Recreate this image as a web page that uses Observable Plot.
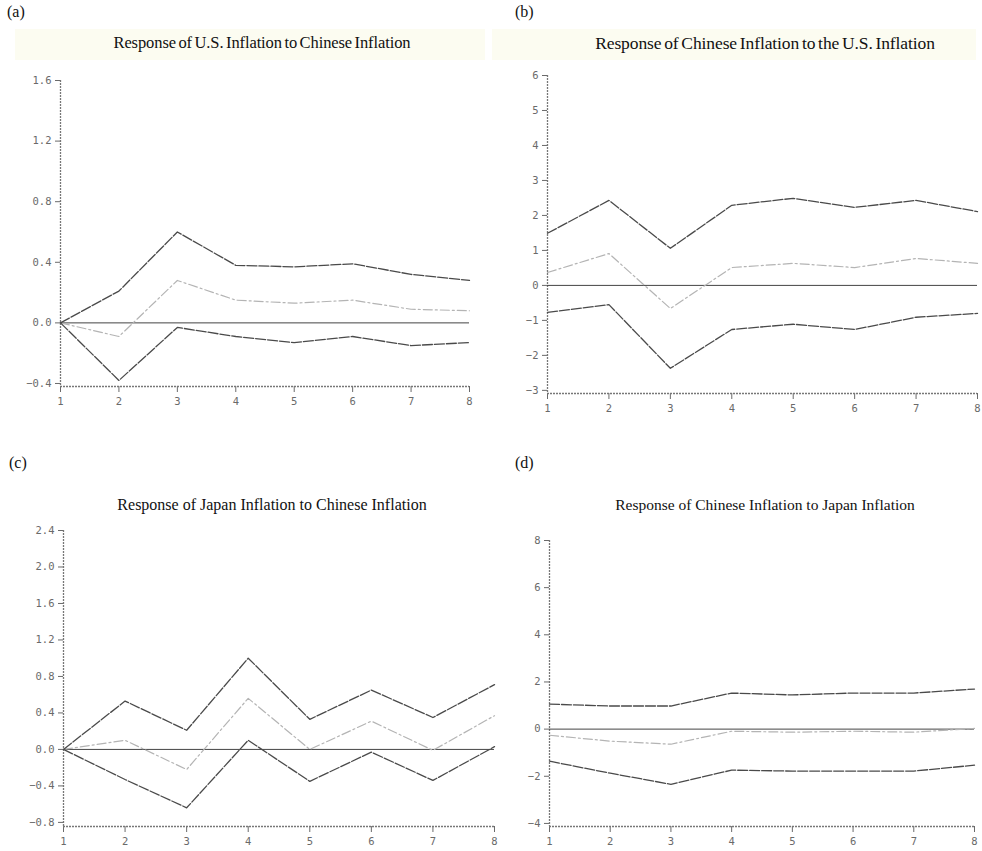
<!DOCTYPE html>
<html>
<head>
<meta charset="utf-8">
<script src="https://cdn.jsdelivr.net/npm/d3@7"></script>
<script src="https://cdn.jsdelivr.net/npm/@observablehq/plot@0.6"></script>
<style>
  html, body { margin: 0; padding: 0; background: #fff; }
  #wrap { position: relative; width: 982px; height: 851px; overflow: hidden; font-family: "Liberation Serif", "DejaVu Serif", serif; color: #111; }
  .lab { position: absolute; font-size: 16px; line-height: 16px; }
  .ttl { position: absolute; text-align: center; white-space: nowrap; line-height: 18px; }
  .band { position: absolute; background: #fcfcf1; }
  .pl { position: absolute; }
</style>
</head>
<body>
<div id="wrap">
  <div class="band" style="left:15px;top:29px;width:470px;height:31px"></div>
  <div class="band" style="left:492px;top:29px;width:484px;height:31px"></div>
  <div class="lab" style="left:7px;top:4px">(a)</div>
  <div class="lab" style="left:515px;top:4px">(b)</div>
  <div class="lab" style="left:9px;top:455px">(c)</div>
  <div class="lab" style="left:515px;top:455px">(d)</div>
  <div class="ttl" style="left:60px;width:404px;top:34px;font-size:16.5px;word-spacing:-1.5px;letter-spacing:-0.1px">Response of U.S. Inflation to Chinese Inflation</div>
  <div class="ttl" style="left:560px;width:410px;top:34px;font-size:17.5px;word-spacing:-1.5px;letter-spacing:-0.1px">Response of Chinese Inflation to the U.S. Inflation</div>
  <div class="ttl" style="left:72px;width:400px;top:496px;font-size:16px">Response of Japan Inflation to Chinese Inflation</div>
  <div class="ttl" style="left:565px;width:400px;top:496px;font-size:15.5px">Response of Chinese Inflation to Japan Inflation</div>
  <div id="pa" class="pl" style="left:0px;top:60px"></div>
  <div id="pb" class="pl" style="left:490px;top:50px"></div>
  <div id="pc" class="pl" style="left:0px;top:510px"></div>
  <div id="pd" class="pl" style="left:490px;top:510px"></div>
</div>
<script>
// Forecast periods
const periods = [1, 2, 3, 4, 5, 6, 7, 8];

// (a) Response of U.S. Inflation to Chinese Inflation
const aUpper = [0, 0.21, 0.60, 0.38, 0.37, 0.39, 0.32, 0.28];
const aMid   = [0, -0.09, 0.28, 0.15, 0.13, 0.15, 0.09, 0.08];
const aLower = [0, -0.38, -0.03, -0.09, -0.13, -0.09, -0.15, -0.13];
const aTicks = [-0.4, 0.0, 0.4, 0.8, 1.2, 1.6];

// (b) Response of Chinese Inflation to the U.S. Inflation
const bUpper = [1.49, 2.43, 1.06, 2.29, 2.49, 2.23, 2.43, 2.11];
const bMid   = [0.37, 0.91, -0.66, 0.51, 0.63, 0.51, 0.77, 0.63];
const bLower = [-0.77, -0.55, -2.37, -1.26, -1.11, -1.26, -0.91, -0.80];
const bTicks = [-3, -2, -1, 0, 1, 2, 3, 4, 5, 6];

// (c) Response of Japan Inflation to Chinese Inflation
const cUpper = [0, 0.53, 0.21, 1.00, 0.33, 0.65, 0.35, 0.71];
const cMid   = [0, 0.10, -0.22, 0.56, 0.00, 0.31, -0.01, 0.37];
const cLower = [0, -0.33, -0.64, 0.10, -0.35, -0.03, -0.34, 0.03];
const cTicks = [-0.8, -0.4, 0.0, 0.4, 0.8, 1.2, 1.6, 2.0, 2.4];

// (d) Response of Chinese Inflation to Japan Inflation
const dUpper = [1.06, 0.98, 0.98, 1.53, 1.45, 1.53, 1.53, 1.70];
const dMid   = [-0.26, -0.51, -0.64, -0.09, -0.13, -0.09, -0.13, 0.03];
const dLower = [-1.36, -1.87, -2.34, -1.74, -1.78, -1.78, -1.78, -1.53];
const dTicks = [-4, -2, 0, 2, 4, 6, 8];

const rows = arr => periods.map((p, i) => ({p, v: arr[i]}));

function panel(id, cfg) {
  const lo = cfg.ydomain[0];
  const chart = Plot.plot({
    width: cfg.width, height: cfg.height,
    marginLeft: cfg.ml, marginRight: cfg.mr, marginTop: cfg.mt, marginBottom: cfg.mb,
    style: {background: "none", fontFamily: "'DejaVu Sans Mono', monospace", fontSize: "10.5px", color: "#6a6a6a"},
    x: {domain: [periods[0], periods[periods.length - 1]], ticks: periods, tickFormat: d => String(d), tickSize: 6, tickPadding: 5, label: null},
    y: {domain: cfg.ydomain, ticks: cfg.yticks, tickFormat: cfg.fmt, tickSize: 5, label: null},
    marks: [
      Plot.ruleX([periods[0]], {stroke: "#777", strokeWidth: 1.3, strokeDasharray: "2,1"}),
      Plot.ruleY([lo], {stroke: "#777", strokeWidth: 1.3, strokeDasharray: "2,1"}),
      Plot.ruleY([0], {stroke: "#444", strokeWidth: 1}),
      Plot.line(rows(cfg.mid), {x: "p", y: "v", stroke: "#b4b4b4", strokeWidth: 1.2, strokeDasharray: "9,3,2,3"}),
      Plot.line(rows(cfg.upper), {x: "p", y: "v", stroke: "#4a4a4a", strokeWidth: 1.3, strokeDasharray: "10,2"}),
      Plot.line(rows(cfg.lower), {x: "p", y: "v", stroke: "#4a4a4a", strokeWidth: 1.3, strokeDasharray: "10,2"})
    ]
  });
  document.getElementById(id).appendChild(chart);
}

const f1 = d3.format(".1f");
const f0 = d3.format("d");

panel("pa", {width: 490, height: 360, ml: 60, mr: 21, mt: 20, mb: 34,
  ydomain: [-0.42, 1.6], yticks: aTicks, fmt: f1, upper: aUpper, mid: aMid, lower: aLower});
panel("pb", {width: 492, height: 370, ml: 57, mr: 5, mt: 25, mb: 27,
  ydomain: [-3.09, 6], yticks: bTicks, fmt: f0, upper: bUpper, mid: bMid, lower: bLower});
panel("pc", {width: 500, height: 340, ml: 63, mr: 6, mt: 20, mb: 24,
  ydomain: [-0.845, 2.4], yticks: cTicks, fmt: f1, upper: cUpper, mid: cMid, lower: cLower});
panel("pd", {width: 492, height: 340, ml: 59, mr: 8, mt: 30, mb: 24,
  ydomain: [-4.13, 8], yticks: dTicks, fmt: f0, upper: dUpper, mid: dMid, lower: dLower});
</script>
</body>
</html>
